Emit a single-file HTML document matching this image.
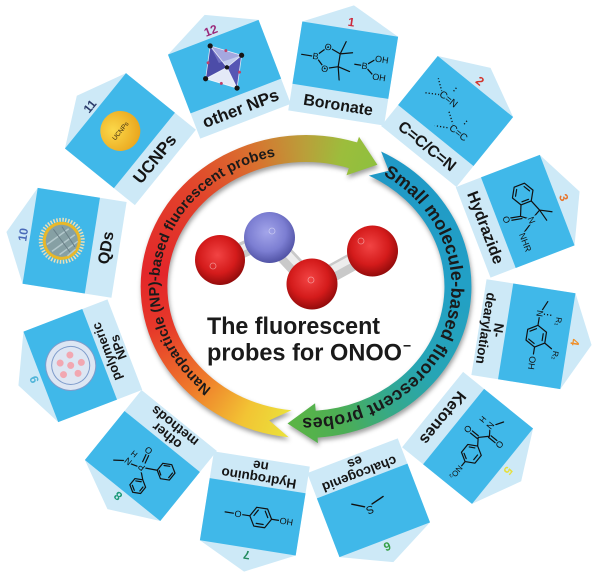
<!DOCTYPE html>
<html><head><meta charset="utf-8">
<style>
html,body{margin:0;padding:0;background:#fff;}
#r{position:relative;width:600px;height:577px;overflow:hidden;background:#fff;}
svg{position:absolute;left:0;top:0;}
.sh{position:absolute;left:0;top:0;width:600px;height:577px;filter:drop-shadow(1px 3px 2.5px rgba(0,0,0,0.38));}
.np,.sm{position:absolute;left:0;top:0;width:600px;height:577px;}
.np{background:conic-gradient(from 180deg at 306px 286.5px,#e9e43c 0deg,#ebe03a 8deg,#f2c434 25deg,#ef7d2b 47deg,#e6382a 75deg,#e3262a 95deg,#e2432b 130deg,#d9712f 158deg,#b9a03a 180deg,#9cbd3c 195deg,#8ec03e 210deg,#8ec03e 360deg);
clip-path:path('M288.7,437.2 A165.5,151.5 0 1 1 357.1,142.4 L359,136.7 L377.4,164.7 L346.5,175.2 L348.8,168.1 A138.5,124.5 0 1 0 291.5,410.3 L269.2,420.4 Z');}
.sm{background:conic-gradient(from 0deg at 306px 286.5px,#1f97c6 0deg,#1f97c6 20deg,#22a0c6 90deg,#27a5b5 125deg,#35a98a 145deg,#4cae55 165deg,#5ab446 185deg,#5ab446 360deg);
clip-path:path('M381.1,151.5 A165.5,151.5 0 0 1 317.6,437.6 L317.9,443.1 L287.5,423.5 L315.1,403.2 L315.7,410.7 A138.5,124.5 0 0 0 368.9,175.6 L388.8,170.8 Z');}
.st{stroke:#111;stroke-width:1.2;fill:none;stroke-linecap:round;stroke-linejoin:round}
.dt{stroke:#111;stroke-width:1.3;fill:none;stroke-dasharray:1.2 2}
.ch{font-family:"Liberation Sans",Arial,sans-serif;font-size:9px;fill:#111;stroke:#40b8e9;stroke-width:2.4px;paint-order:stroke;text-anchor:middle}
.lb{font-family:"Liberation Sans",Arial,sans-serif;font-weight:bold;font-size:16px;fill:#151515;text-anchor:middle}
.lb2{font-size:13.5px}
.nm{font-family:"Liberation Sans",Arial,sans-serif;font-weight:bold;font-size:12px;text-anchor:middle}
.ring{font-family:"Liberation Sans",Arial,sans-serif;font-weight:bold;fill:#1a1a1a}
</style></head>
<body>
<div id="r">
<svg width="600" height="577" viewBox="0 0 600 577">
<defs>
<g id="cb">
<path d="M-48.5 0H48.5V-90L0-114L-48.5-90Z" fill="#cde9f7"/>
<rect x="-48.5" y="-90" width="97" height="63" fill="#40b8e9"/>
</g>
<radialGradient id="ucg" cx="0.4" cy="0.35" r="0.7"><stop offset="0" stop-color="#fbd84a"/><stop offset="1" stop-color="#e9a51c"/></radialGradient>
</defs>

<!-- Card 1 -->
<g transform="translate(299 288.5) rotate(9) translate(10 -174.2)">
<use href="#cb"/>
<text class="nm" x="0" y="-93" fill="#cc2a3c">1</text>
<text class="lb" x="0" y="-8">Boronate</text>
<path class="st" d="M-44,-57.5H-33 M-30,-58 L-19,-69 L-6,-64 L-6,-51 L-19,-47 Z M-6,-64 L-2,-77 M-6,-64 L6,-67 M-6,-51 L-3,-38 M-6,-51 L6,-48 M10,-56 H20 L31,-65 M20,-56 L31,-47"/>
<text class="ch" x="-30" y="-54.8">B</text>
<text class="ch" x="-19" y="-65.8">O</text>
<text class="ch" x="-19" y="-43.8">O</text>
<text class="ch" x="20" y="-52.8">B</text>
<text class="ch" x="36" y="-61.8">OH</text>
<text class="ch" x="36" y="-43.8">OH</text>
</g>

<!-- Card 2 -->
<g transform="translate(299 288.5) rotate(39) translate(10 -178)">
<use href="#cb"/>
<text class="nm" x="0" y="-93" fill="#d2352c">2</text>
<text class="lb" x="0" y="-8">C=C/C=N</text>
<path class="dt" d="M-23,-65 L-34,-73 M-23,-61 L-36,-53 M-14,-77 V-71 M7,-46 L-5,-54 M7,-42 L-7,-34 M15,-58 V-52"/>
<text class="ch" style="font-size:10px" x="-13" y="-60">C=N</text>
<text class="ch" style="font-size:10px" x="16" y="-40">C=C</text>
</g>

<!-- Card 3 -->
<g transform="translate(299 288.5) rotate(69) translate(10 -182.7)">
<use href="#cb"/>
<text class="nm" x="0" y="-93" fill="#e8742a">3</text>
<text class="lb" x="0" y="-8">Hydrazide</text>
<path class="st" d="M-18,-71 L-8.5,-65.5 L-8.5,-54.5 L-18,-49 L-27.5,-54.5 L-27.5,-65.5 Z M-24.5,-64 L-18.5,-67.5 M-11,-63.5 V-56.5 M-18.5,-52.5 L-24.5,-56 M-8.5,-65.5 L3,-70 L9,-59 L2,-50 L-8.5,-54.5 M2,-50 L0,-40 M4.6,-50.5 L2.6,-40.5 M3,-70 L9,-81 M3,-70 L15,-73 M13,-56 L18,-48"/>
<text class="ch" x="9.5" y="-55.8">N</text>
<text class="ch" x="0" y="-32.5">O</text>
<text class="ch" x="28" y="-42">NHR</text>
</g>

<!-- Card 4 -->
<g transform="translate(299 288.5) rotate(99) translate(10 -183.8)">
<use href="#cb"/>
<text class="nm" x="0" y="-93" fill="#ef8f2a">4</text>
<text class="lb lb2" x="0" y="-15">N-</text>
<text class="lb lb2" x="0" y="-2.5">dearylation</text>
<path class="st" d="M-11,-58 L-5.5,-67.5 L5.5,-67.5 L11,-58 L5.5,-48.5 L-5.5,-48.5 Z M-3.5,-64.5 H3.5 M7.5,-57 L4,-51 M-7.5,-57 L-4,-51 M-11,-58 H-19 M11,-58 H18 M5.5,-67.5 L10,-75 M-27,-60 L-36,-64"/>
<path class="dt" d="M-23,-62 L-23,-71"/>
<text class="ch" x="-23" y="-54.8">N</text>
<text class="ch" x="-18" y="-75" style="font-size:8px">R₁</text>
<text class="ch" x="27" y="-54.8">OH</text>
<text class="ch" x="16" y="-77" style="font-size:8px">R₂</text>
</g>

<!-- Card 5 -->
<g transform="translate(299 288.5) rotate(129) translate(10 -180)">
<use href="#cb"/>
<text class="nm" x="0" y="-93" fill="#e6df3e">5</text>
<text class="lb" x="0" y="-8">Ketones</text>
<path class="st" d="M0,-58 L5,-66.7 L15,-66.7 L20,-58 L15,-49.3 L5,-49.3 Z M7,-63.5 H13 M3.2,-57 L6,-52 M17,-57 L14.2,-52 M20,-58 H26 M0,-58 L-7,-53 L-15,-61 L-22,-56 M-8.4,-52 V-44 M-5.6,-53 V-44 M-16.4,-62 V-70 M-13.6,-61 V-70 M-27,-58 L-35,-63"/>
<text class="ch" x="34" y="-55" style="font-size:8px">NO₂</text>
<text class="ch" x="-7" y="-36.5">O</text>
<text class="ch" x="-15" y="-71">O</text>
<text class="ch" x="-24" y="-51.8">N</text>
<text class="ch" x="-24" y="-42.5" style="font-size:8px">H</text>
</g>

<!-- Card 6 -->
<g transform="translate(299 288.5) rotate(159) translate(10 -175.3)">
<use href="#cb"/>
<text class="nm" x="0" y="-93" fill="#36a046">6</text>
<text class="lb lb2" x="0" y="-15">chalcogenid</text>
<text class="lb lb2" x="0" y="-2.5">es</text>
<path class="st" style="stroke-width:1.4" d="M7,-52 L18,-45 M-1,-52 L-14,-49"/>
<text class="ch" x="3" y="-53" style="font-size:11px">S</text>
</g>

<!-- Card 7 -->
<g transform="translate(299 288.5) rotate(189) translate(10 -174.2)">
<use href="#cb"/>
<text class="nm" x="0" y="-93" fill="#238a5e">7</text>
<text class="lb lb2" x="0" y="-15">Hydroquino</text>
<text class="lb lb2" x="0" y="-2.5">ne</text>
<path class="st" d="M-27,-58 H-19 M-19,-58 L-13.5,-67.5 L-2.5,-67.5 L3,-58 L-2.5,-48.5 L-13.5,-48.5 Z M-11.5,-64.5 H-4.5 M-15,-57 L-11.5,-51 M-1,-57 L-4.5,-51 M3,-58 H11 M19,-58 H28"/>
<text class="ch" x="-34" y="-54.8">HO</text>
<text class="ch" x="15" y="-54.8">O</text>
</g>

<!-- Card 8 -->
<g transform="translate(299 288.5) rotate(219) translate(10 -178)">
<use href="#cb"/>
<text class="nm" x="0" y="-93" fill="#1b9a78">8</text>
<text class="lb lb2" x="0" y="-15">other</text>
<text class="lb lb2" x="0" y="-2.5">methods</text>
<path class="st" d="M2.5,-55 L4.5,-47 M-0.3,-54.5 L1.7,-46.5 M4,-62 L10,-64 M18,-66 L26,-72 M-4,-58 L-14.2,-52.5 M-22,-57 L-14.2,-52.5 L-14.2,-43.5 L-22,-39 L-29.8,-43.5 L-29.8,-52.5 Z M-20,-54 L-16,-51.5 M-16.5,-44.5 L-21.5,-41.5 M-27.8,-45 V-51 M-3,-64 L-9,-69 M-9,-85 L-2.1,-81 L-2.1,-73 L-9,-69 L-15.9,-73 L-15.9,-81 Z M-9,-82.5 L-4.3,-79.8 M-4.3,-74.2 L-9,-71.5 M-13.7,-79.5 V-74.5"/>
<text class="ch" x="0" y="-56.8">P</text>
<text class="ch" x="5" y="-39.5">O</text>
<text class="ch" x="14" y="-60.8">N</text>
<text class="ch" x="14" y="-51.5" style="font-size:8px">H</text>
</g>

<!-- Card 9 -->
<g transform="translate(299 288.5) rotate(249) translate(10 -182.7)">
<use href="#cb"/>
<text class="nm" x="0" y="-93" fill="#4fb4d8">9</text>
<text class="lb lb2" x="0" y="-15" style="font-size:13px">polymeric</text>
<text class="lb lb2" x="0" y="-2.5" style="font-size:13px">NPs</text>
<circle cx="0" cy="-58" r="25" fill="#dde6f3" stroke="#7f9ccb" stroke-width="1"/>
<circle cx="0" cy="-58" r="19" fill="none" stroke="#7f9ccb" stroke-width="1"/>
<g fill="#f2a7b1"><circle cx="-6" cy="-68" r="3.5"/><circle cx="6" cy="-67" r="3.5"/><circle cx="0" cy="-58" r="3.5"/><circle cx="-10" cy="-54" r="3.5"/><circle cx="10" cy="-55" r="3.5"/><circle cx="-1" cy="-47" r="3.5"/></g>
</g>

<!-- Card 10 -->
<g transform="translate(299 288.5) rotate(279) translate(10 -183.8)">
<use href="#cb"/>
<text class="nm" x="0" y="-93" fill="#4a6ab8">10</text>
<text class="lb" x="0" y="-8">QDs</text>
<circle cx="0" cy="-58" r="21" fill="none" stroke="#eadfb8" stroke-width="4" stroke-dasharray="1.5 1.5"/>
<circle cx="0" cy="-58" r="17.5" fill="#86a0a4" stroke="#e8b82a" stroke-width="3"/>
<path d="M-12,-66 L8,-46 M-14,-58 L2,-42 M-6,-72 L13,-53 M-14,-50 L-6,-43" stroke="#b3c8cc" stroke-width="1.5" fill="none"/>
<path d="M-10,-48 L10,-68 M-4,-44 L14,-60" stroke="#6a8088" stroke-width="1" fill="none"/>
</g>

<!-- Card 11 -->
<g transform="translate(299 288.5) rotate(309) translate(10 -180)">
<use href="#cb"/>
<text class="nm" x="0" y="-93" fill="#2a3a6a">11</text>
<text class="lb" x="0" y="-8" style="font-size:17px">UCNPs</text>
<circle cx="0" cy="-58" r="20" fill="url(#ucg)"/>
<text x="0" y="-55.8" font-family="Liberation Sans, Arial, sans-serif" font-size="6.5" fill="#3a2a10" text-anchor="middle">UCNPs</text>
</g>

<!-- Card 12 -->
<g transform="translate(299 288.5) rotate(339) translate(10 -175.3)">
<use href="#cb"/>
<text class="nm" x="0" y="-93" fill="#9a2a7a">12</text>
<text class="lb" x="0" y="-8" style="font-size:17px">other NPs</text>
<polygon points="-6,-83 -22,-54 2,-57" fill="#4c4ca8"/>
<polygon points="-6,-83 2,-57 20,-63" fill="#c3cdee"/>
<polygon points="-22,-54 2,-57 4,-34" fill="#e4e9f7"/>
<polygon points="2,-57 20,-63 4,-34" fill="#5656b4"/>
<polygon points="-6,-83 -4,-64 20,-63" fill="#8a8ad6" opacity="0.55"/>
<path d="M-6,-83 L-22,-54 L4,-34 L20,-63 Z M-6,-83 L2,-57 L4,-34 M-22,-54 L2,-57 L20,-63" stroke="#fff" stroke-width="0.8" fill="none" opacity="0.8"/>
<g fill="#c0406a"><circle cx="-14" cy="-68" r="1.5"/><circle cx="7" cy="-73" r="1.5"/><circle cx="-9" cy="-44" r="1.5"/><circle cx="12" cy="-48" r="1.5"/></g>
<g fill="#151515"><circle cx="-6" cy="-83" r="2.6"/><circle cx="-22" cy="-54" r="2.6"/><circle cx="4" cy="-34" r="2.6"/><circle cx="20" cy="-63" r="2.6"/><circle cx="2" cy="-57" r="2.2"/></g>
</g>
</svg>

<div class="sh"><div class="np"></div><div class="sm"></div></div>

<svg width="600" height="577" viewBox="0 0 600 577">
<defs>
<path id="npp" d="M211.5,388.4 A147,133 0 0 1 275.4,156.4" fill="none"/>
<path id="smp" d="M383.1,175 A145.5,131.5 0 0 1 300.9,417.9" fill="none"/>
<radialGradient id="red" cx="0.45" cy="0.4" r="0.62"><stop offset="0" stop-color="#f24444"/><stop offset="0.6" stop-color="#d41b1b"/><stop offset="1" stop-color="#8e0a0a"/></radialGradient>
<radialGradient id="blu" cx="0.45" cy="0.4" r="0.62"><stop offset="0" stop-color="#a3a5ea"/><stop offset="0.6" stop-color="#7c7ed2"/><stop offset="1" stop-color="#4e50a2"/></radialGradient>
</defs>
<text class="ring" font-size="14.5"><textPath href="#npp" textLength="308" lengthAdjust="spacing">Nanoparticle (NP)-based fluorescent probes</textPath></text>
<text class="ring" font-size="18"><textPath href="#smp" textLength="358" lengthAdjust="spacing">Small molecule-based fluorescent probes</textPath></text>

<!-- molecule bonds -->
<g stroke-linecap="butt">
<line x1="269" y1="238" x2="220" y2="260" stroke="#c9c9c9" stroke-width="16"/>
<line x1="269" y1="236" x2="220" y2="258" stroke="#ededed" stroke-width="6"/>
<line x1="269" y1="238" x2="312" y2="284" stroke="#c9c9c9" stroke-width="18"/>
<line x1="271" y1="236" x2="314" y2="282" stroke="#ededed" stroke-width="7"/>
<line x1="312" y1="284" x2="372" y2="251" stroke="#c9c9c9" stroke-width="18"/>
<line x1="311" y1="281" x2="371" y2="248" stroke="#ededed" stroke-width="7"/>
</g>
<circle cx="220" cy="260" r="25" fill="url(#red)"/>
<circle cx="269.5" cy="237.5" r="25.5" fill="url(#blu)"/>
<circle cx="312" cy="284" r="25.5" fill="url(#red)"/>
<circle cx="372.5" cy="251" r="25.5" fill="url(#red)"/>
<g fill="none" stroke="#ffffff" stroke-opacity="0.45" stroke-width="0.8">
<circle cx="213" cy="266" r="3"/><circle cx="272" cy="231" r="3"/><circle cx="311" cy="280" r="3"/><circle cx="361" cy="241" r="3"/>
</g>

<text x="207" y="334" font-family="Liberation Sans, Arial, sans-serif" font-weight="bold" font-size="24" fill="#1a1a1a" textLength="173" lengthAdjust="spacingAndGlyphs">The fluorescent</text>
<text x="207" y="360.5" font-family="Liberation Sans, Arial, sans-serif" font-weight="bold" font-size="24" fill="#1a1a1a" textLength="195" lengthAdjust="spacingAndGlyphs">probes for ONOO</text>
<text x="403" y="350.5" font-family="Liberation Sans, Arial, sans-serif" font-weight="bold" font-size="14" fill="#1a1a1a">−</text>
</svg>
</div>
</body></html>
